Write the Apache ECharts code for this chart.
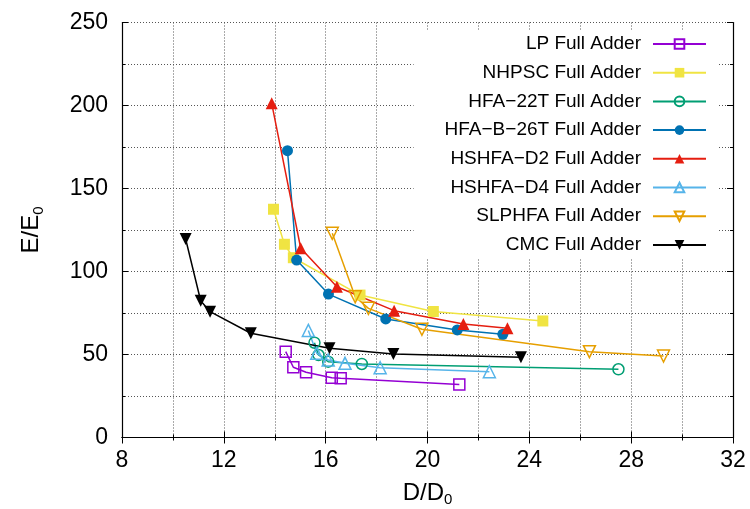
<!DOCTYPE html>
<html>
<head>
<meta charset="utf-8">
<script src="https://cdn.jsdelivr.net/npm/echarts@6/dist/echarts.min.js"></script>
<style>
  html, body { margin: 0; padding: 0; background: #fff; }
  #chart { width: 750px; height: 509px; }
</style>
</head>
<body>
<div id="chart"></div>
<script>
// values (x = D/D0, y = E/E0)
const seriesNames = ['LP Full Adder', 'NHPSC Full Adder', 'HFA\u221222T Full Adder', 'HFA\u2212B\u221226T Full Adder',
  'HSHFA\u2212D2 Full Adder', 'HSHFA\u2212D4 Full Adder', 'SLPHFA Full Adder', 'CMC Full Adder'];

const lpX = [14.43, 14.73, 15.23, 16.24, 16.59, 21.25];
const lpY = [51.7, 42.3, 39.3, 36.0, 35.7, 32.0];
const nhpscX = [13.95, 14.38, 14.73, 17.35, 20.23, 24.53];
const nhpscY = [137.5, 116.4, 108.3, 85.8, 75.9, 70.2];
const hfa22tX = [15.56, 15.72, 16.1, 17.42, 27.5];
const hfa22tY = [57.1, 49.7, 45.7, 44.3, 41.1];
const hfab26tX = [14.5, 14.86, 16.11, 18.36, 21.17, 22.96];
const hfab26tY = [172.8, 106.9, 86.4, 71.4, 64.8, 62.2];
const d2X = [13.88, 15.02, 16.44, 18.69, 21.41, 23.14];
const d2Y = [201.3, 114.0, 90.8, 76.4, 68.4, 65.8];
const d4X = [15.32, 15.65, 16.1, 16.76, 18.14, 22.43];
const d4Y = [64.5, 50.7, 46.7, 44.7, 42.0, 39.6];
const slphfaX = [16.26, 17.16, 17.68, 19.78, 26.36, 29.27];
const slphfaY = [123.0, 84.8, 77.8, 65.2, 51.7, 49.1];
const cmcX = [10.5, 11.09, 11.46, 13.06, 16.15, 18.66, 23.67];
const cmcY = [119.6, 82.4, 75.8, 62.8, 53.7, 50.3, 48.3];

const FONT = 'Liberation Sans';
const dots = { color: '#555', width: 1, type: [1, 2] };

function zip(xs, ys) {
  return xs.map((x, i) => [x, ys[i]]);
}

// open markers get a see-through fill so the line shows through like gnuplot
function mk(name, xs, ys, color, symbol, open, rotate) {
  return {
    name: name,
    type: 'line',
    data: zip(xs, ys),
    symbol: symbol,
    symbolSize: symbol === 'triangle' ? 12 : 11,
    symbolRotate: rotate || 0,
    lineStyle: { color: color, width: 1.5 },
    itemStyle: open
      ? { color: 'rgba(255,255,255,0)', borderColor: color, borderWidth: 1.5 }
      : { color: color },
    emphasis: { disabled: true }
  };
}

const chart = echarts.init(document.getElementById('chart'));

const axisCommon = {
  axisLine: { lineStyle: { color: '#000', width: 1.2 } },
  axisTick: { inside: true, length: 6, lineStyle: { color: '#000' } },
  minorTick: { show: true, splitNumber: 2, length: 3, lineStyle: { color: '#000' } }
};

const subName = {
  rich: {
    m: { fontFamily: FONT, fontSize: 24, color: '#000' },
    s: { fontFamily: FONT, fontSize: 15, color: '#000', padding: [14, 0, 0, 0] }
  }
};

chart.setOption({
  animation: false,
  backgroundColor: '#fff',
  grid: { left: 122, right: 17, top: 22.5, bottom: 71.5, containLabel: false, outerBoundsMode: 'none' },
  legend: {
    orient: 'vertical',
    right: 32,
    top: 30,
    align: 'right',
    backgroundColor: '#fff',
    padding: [4, 11, 3, 31],
    itemWidth: 53,
    itemHeight: 12,
    itemGap: 8.7,
    textStyle: { fontFamily: FONT, fontSize: 19, lineHeight: 20, color: '#000', padding: [0, 7, 0, 0] },
    data: seriesNames
  },
  xAxis: [
    Object.assign({
      type: 'value', min: 8, max: 32, interval: 4,
      name: '{m|D/D}{s|0}', nameLocation: 'middle', nameGap: 41,
      nameTextStyle: subName,
      axisLabel: { fontFamily: FONT, fontSize: 23, color: '#000', margin: 12 },
      splitLine: { show: true, lineStyle: dots },
      minorSplitLine: { show: true, lineStyle: dots }
    }, axisCommon),
    Object.assign({
      type: 'value', min: 8, max: 32, interval: 4, position: 'top',
      axisLabel: { show: false }, splitLine: { show: false }
    }, axisCommon)
  ],
  yAxis: [
    Object.assign({
      type: 'value', min: 0, max: 250, interval: 50,
      name: '{m|E/E}{s|0}', nameLocation: 'middle', nameGap: 76, nameRotate: 90,
      nameTextStyle: subName,
      axisLabel: { fontFamily: FONT, fontSize: 23, color: '#000', margin: 14 },
      splitLine: { show: true, lineStyle: dots },
      minorSplitLine: { show: true, lineStyle: dots }
    }, axisCommon),
    Object.assign({
      type: 'value', min: 0, max: 250, interval: 50, position: 'right',
      axisLabel: { show: false }, splitLine: { show: false }
    }, axisCommon)
  ],
  series: [
    mk(seriesNames[0], lpX, lpY, '#9400d3', 'rect', true),
    mk(seriesNames[1], nhpscX, nhpscY, '#f0e442', 'rect', false),
    mk(seriesNames[2], hfa22tX, hfa22tY, '#009e73', 'circle', true),
    mk(seriesNames[3], hfab26tX, hfab26tY, '#0072b2', 'circle', false),
    mk(seriesNames[4], d2X, d2Y, '#e51e10', 'triangle', false),
    mk(seriesNames[5], d4X, d4Y, '#56b4e9', 'triangle', true),
    mk(seriesNames[6], slphfaX, slphfaY, '#e69f00', 'triangle', true, 180),
    mk(seriesNames[7], cmcX, cmcY, '#000000', 'triangle', false, 180)
  ]
});
</script>
</body>
</html>
